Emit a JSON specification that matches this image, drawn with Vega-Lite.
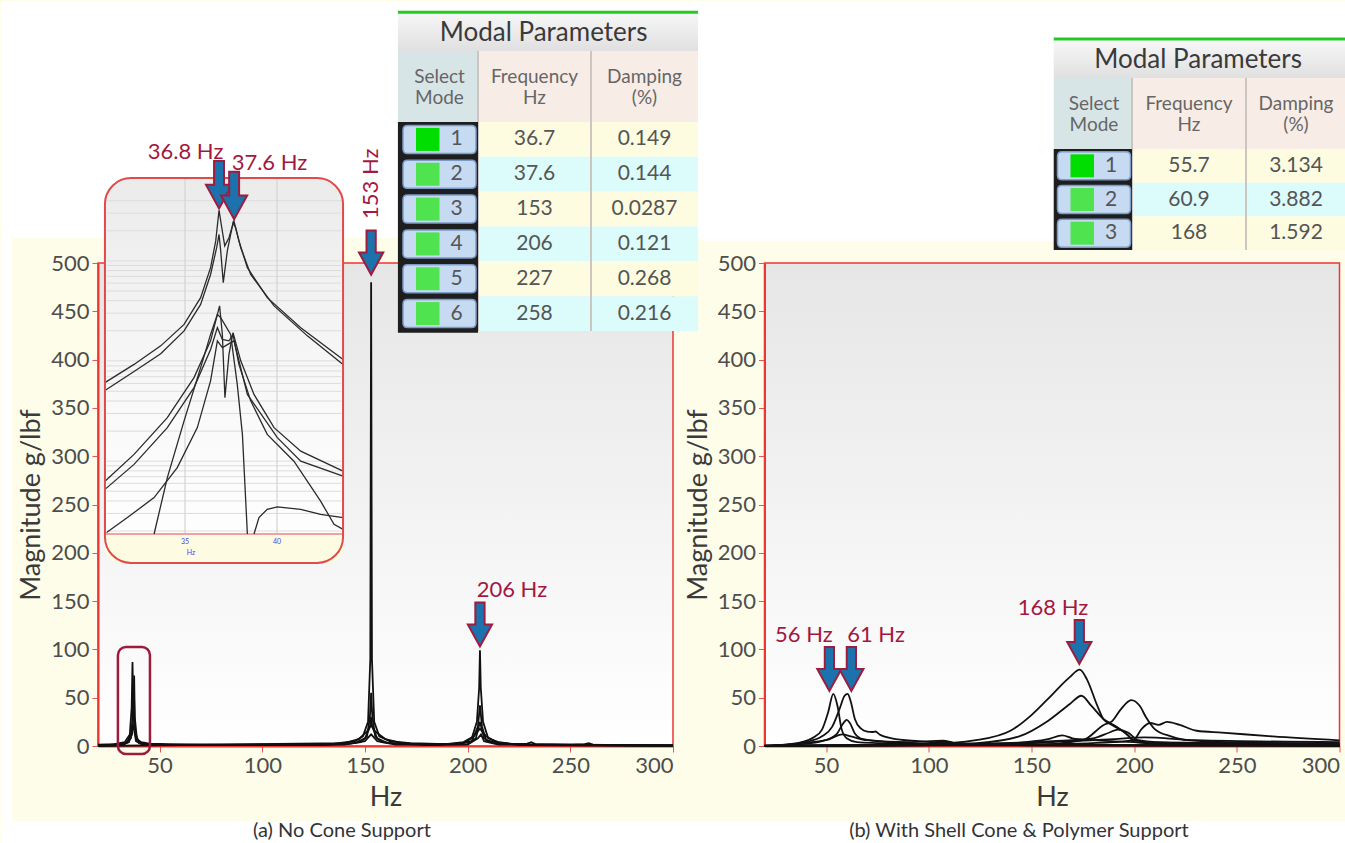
{
"$schema":"https://vega.github.io/schema/vega-lite/v6.json",
"padding":0,
"background":"#fdfde9",
"spacing":91.5,
"bounds":"flush",
"config":{
 "font":"Lato",
 "axis":{"labelFont":"Lato","titleFont":"Lato","labelFontSize":22,"labelColor":"#4d4d4d","titleFontSize":27,"titleFontWeight":"normal","titleColor":"#3a3a3a","gridColor":"#d9d9d9","gridWidth":1.5,"domainColor":"#f03434","domainWidth":2,"tickColor":"#e45555","tickSize":6,"labelPadding":3},
 "axisY":{"labelFlush":false,"titlePadding":5},
 "axisX":{"titlePadding":8}
},
"datasets":{
 "left":[
  {"s":1,"f":20,"m":1.5},{"s":1,"f":28,"m":2},{"s":1,"f":33,"m":4},{"s":1,"f":35.5,"m":12},{"s":1,"f":36.4,"m":40},{"s":1,"f":36.8,"m":87},{"s":1,"f":37.2,"m":40},{"s":1,"f":37.7,"m":20},{"s":1,"f":38.5,"m":8},{"s":1,"f":41,"m":4},{"s":1,"f":45,"m":2.5},{"s":1,"f":55,"m":2},{"s":1,"f":80,"m":1.5},{"s":1,"f":110,"m":1.5},{"s":1,"f":135,"m":2.5},{"s":1,"f":145,"m":5},{"s":1,"f":149,"m":10},{"s":1,"f":151.5,"m":25},{"s":1,"f":152.6,"m":90},{"s":1,"f":153,"m":480},{"s":1,"f":153.4,"m":90},{"s":1,"f":154.5,"m":25},{"s":1,"f":157,"m":10},{"s":1,"f":162,"m":5},{"s":1,"f":172,"m":3},{"s":1,"f":190,"m":2},{"s":1,"f":198,"m":3},{"s":1,"f":202,"m":8},{"s":1,"f":204.5,"m":25},{"s":1,"f":205.6,"m":60},{"s":1,"f":206,"m":99},{"s":1,"f":206.4,"m":60},{"s":1,"f":207.5,"m":25},{"s":1,"f":210,"m":8},{"s":1,"f":215,"m":4},{"s":1,"f":219,"m":3},{"s":1,"f":222,"m":2},{"s":1,"f":229,"m":2.5},{"s":1,"f":231,"m":4},{"s":1,"f":233,"m":2},{"s":1,"f":250,"m":1.5},{"s":1,"f":257,"m":2},{"s":1,"f":259,"m":3},{"s":1,"f":261,"m":1.5},{"s":1,"f":280,"m":1},{"s":1,"f":300,"m":1},
  {"s":2,"f":20,"m":0.5},{"s":2,"f":30,"m":1},{"s":2,"f":35,"m":4},{"s":2,"f":36.6,"m":12},{"s":2,"f":37.3,"m":40},{"s":2,"f":37.6,"m":73},{"s":2,"f":37.9,"m":30},{"s":2,"f":39,"m":6},{"s":2,"f":42,"m":2},{"s":2,"f":50,"m":1},{"s":2,"f":100,"m":1},{"s":2,"f":140,"m":2},{"s":2,"f":148,"m":4},{"s":2,"f":151,"m":10},{"s":2,"f":152.4,"m":30},{"s":2,"f":153,"m":55},{"s":2,"f":153.6,"m":30},{"s":2,"f":155,"m":10},{"s":2,"f":158,"m":4},{"s":2,"f":170,"m":2},{"s":2,"f":195,"m":2},{"s":2,"f":202,"m":5},{"s":2,"f":205,"m":20},{"s":2,"f":206,"m":42},{"s":2,"f":207,"m":20},{"s":2,"f":209,"m":6},{"s":2,"f":215,"m":3},{"s":2,"f":220,"m":2},{"s":2,"f":300,"m":0.5},
  {"s":3,"f":20,"m":0.3},{"s":3,"f":33,"m":2},{"s":3,"f":36,"m":8},{"s":3,"f":36.9,"m":30},{"s":3,"f":37.5,"m":55},{"s":3,"f":38,"m":15},{"s":3,"f":40,"m":3},{"s":3,"f":50,"m":1},{"s":3,"f":130,"m":1},{"s":3,"f":145,"m":3},{"s":3,"f":150,"m":8},{"s":3,"f":152.5,"m":20},{"s":3,"f":153,"m":30},{"s":3,"f":153.5,"m":20},{"s":3,"f":156,"m":8},{"s":3,"f":161,"m":3},{"s":3,"f":180,"m":1},{"s":3,"f":200,"m":2},{"s":3,"f":204,"m":8},{"s":3,"f":206,"m":25},{"s":3,"f":208,"m":8},{"s":3,"f":212,"m":3},{"s":3,"f":230,"m":1.5},{"s":3,"f":300,"m":0.5},
  {"s":4,"f":20,"m":0.2},{"s":4,"f":34,"m":3},{"s":4,"f":36.5,"m":15},{"s":4,"f":37,"m":22},{"s":4,"f":37.5,"m":18},{"s":4,"f":38.5,"m":5},{"s":4,"f":42,"m":1},{"s":4,"f":140,"m":1.5},{"s":4,"f":150,"m":5},{"s":4,"f":153,"m":12},{"s":4,"f":156,"m":5},{"s":4,"f":165,"m":1.5},{"s":4,"f":200,"m":1.5},{"s":4,"f":205,"m":8},{"s":4,"f":206.5,"m":12},{"s":4,"f":208,"m":5},{"s":4,"f":215,"m":1.5},{"s":4,"f":300,"m":0.3},
  {"s":5,"f":20,"m":0},{"s":5,"f":140,"m":3},{"s":5,"f":147,"m":7},{"s":5,"f":151,"m":15},{"s":5,"f":153,"m":22},{"s":5,"f":155,"m":15},{"s":5,"f":160,"m":7},{"s":5,"f":168,"m":3},{"s":5,"f":185,"m":1},{"s":5,"f":198,"m":4},{"s":5,"f":203,"m":10},{"s":5,"f":206,"m":18},{"s":5,"f":209,"m":10},{"s":5,"f":214,"m":4},{"s":5,"f":225,"m":1},{"s":5,"f":300,"m":0}
 ],
 "right":[
  {"s":1,"f":20,"m":0.5},{"s":1,"f":30,"m":1.5},{"s":1,"f":38,"m":4},{"s":1,"f":44,"m":9},{"s":1,"f":48,"m":17},{"s":1,"f":51,"m":35},{"s":1,"f":53.5,"m":54},{"s":1,"f":55.5,"m":42},{"s":1,"f":57.5,"m":18},{"s":1,"f":60,"m":8},{"s":1,"f":65,"m":4},{"s":1,"f":75,"m":3},{"s":1,"f":90,"m":2},{"s":1,"f":110,"m":1},{"s":1,"f":150,"m":0.5},{"s":1,"f":300,"m":0},
  {"s":2,"f":20,"m":0.2},{"s":2,"f":30,"m":1},{"s":2,"f":40,"m":4},{"s":2,"f":48,"m":10},{"s":2,"f":53,"m":20},{"s":2,"f":56.5,"m":38},{"s":2,"f":59,"m":52},{"s":2,"f":60.5,"m":54},{"s":2,"f":62,"m":46},{"s":2,"f":64,"m":28},{"s":2,"f":67,"m":18},{"s":2,"f":70,"m":15},{"s":2,"f":72.5,"m":14.5},{"s":2,"f":74,"m":15},{"s":2,"f":76,"m":12},{"s":2,"f":82,"m":8},{"s":2,"f":95,"m":5},{"s":2,"f":110,"m":3},{"s":2,"f":140,"m":2},{"s":2,"f":170,"m":1},{"s":2,"f":300,"m":0.5},
  {"s":3,"f":20,"m":0},{"s":3,"f":38,"m":2},{"s":3,"f":48,"m":5},{"s":3,"f":55,"m":12},{"s":3,"f":58.5,"m":24},{"s":3,"f":60,"m":27},{"s":3,"f":61.5,"m":24},{"s":3,"f":64,"m":13},{"s":3,"f":68,"m":7},{"s":3,"f":80,"m":4},{"s":3,"f":100,"m":2.5},{"s":3,"f":107,"m":5},{"s":3,"f":110,"m":4.5},{"s":3,"f":115,"m":2},{"s":3,"f":130,"m":1.5},{"s":3,"f":300,"m":0.5},
  {"s":4,"f":20,"m":0.3},{"s":4,"f":60,"m":1},{"s":4,"f":100,"m":2},{"s":4,"f":123,"m":6},{"s":4,"f":140,"m":16},{"s":4,"f":150,"m":32},{"s":4,"f":160,"m":53},{"s":4,"f":168.5,"m":71},{"s":4,"f":173.5,"m":79},{"s":4,"f":177,"m":69},{"s":4,"f":182,"m":42},{"s":4,"f":185,"m":28},{"s":4,"f":189,"m":22},{"s":4,"f":195.5,"m":14},{"s":4,"f":200,"m":6},{"s":4,"f":210,"m":3},{"s":4,"f":240,"m":2},{"s":4,"f":300,"m":1},
  {"s":5,"f":20,"m":0.2},{"s":5,"f":100,"m":1},{"s":5,"f":123.5,"m":3},{"s":5,"f":144,"m":10},{"s":5,"f":158,"m":26},{"s":5,"f":168.7,"m":43.5},{"s":5,"f":174.3,"m":52},{"s":5,"f":179,"m":42},{"s":5,"f":185,"m":28},{"s":5,"f":191.4,"m":20},{"s":5,"f":197.5,"m":10},{"s":5,"f":200,"m":4},{"s":5,"f":215,"m":2},{"s":5,"f":300,"m":0.5},
  {"s":6,"f":20,"m":0},{"s":6,"f":150,"m":1},{"s":6,"f":175,"m":6},{"s":6,"f":185.2,"m":21.8},{"s":6,"f":189.3,"m":25.7},{"s":6,"f":193.4,"m":37.6},{"s":6,"f":198.6,"m":47.5},{"s":6,"f":202.7,"m":41.6},{"s":6,"f":205.8,"m":29.7},{"s":6,"f":209.9,"m":17.8},{"s":6,"f":218,"m":10},{"s":6,"f":226,"m":6},{"s":6,"f":247,"m":4},{"s":6,"f":300,"m":2},
  {"s":7,"f":20,"m":0},{"s":7,"f":150,"m":1.5},{"s":7,"f":190,"m":4},{"s":7,"f":199.6,"m":6},{"s":7,"f":203.7,"m":17.8},{"s":7,"f":207.8,"m":23.8},{"s":7,"f":211.9,"m":21.8},{"s":7,"f":216,"m":25},{"s":7,"f":222.2,"m":21.8},{"s":7,"f":230.5,"m":15.8},{"s":7,"f":242.8,"m":13.9},{"s":7,"f":267.5,"m":9.9},{"s":7,"f":300,"m":5.9},
  {"s":8,"f":20,"m":0},{"s":8,"f":120,"m":2},{"s":8,"f":160,"m":5},{"s":8,"f":180,"m":8},{"s":8,"f":188,"m":14},{"s":8,"f":192,"m":17},{"s":8,"f":197,"m":14},{"s":8,"f":202,"m":6},{"s":8,"f":220,"m":3},{"s":8,"f":300,"m":2},
  {"s":9,"f":20,"m":0},{"s":9,"f":100,"m":1},{"s":9,"f":140,"m":3},{"s":9,"f":158,"m":7},{"s":9,"f":165,"m":11},{"s":9,"f":170,"m":8},{"s":9,"f":180,"m":6},{"s":9,"f":200,"m":4},{"s":9,"f":260,"m":3},{"s":9,"f":300,"m":2},
  {"s":10,"f":20,"m":0},{"s":10,"f":50,"m":6},{"s":10,"f":58,"m":12},{"s":10,"f":62,"m":10},{"s":10,"f":70,"m":6},{"s":10,"f":90,"m":4},{"s":10,"f":107,"m":5.5},{"s":10,"f":112,"m":3},{"s":10,"f":130,"m":2},{"s":10,"f":170,"m":5},{"s":10,"f":190,"m":7},{"s":10,"f":205,"m":9},{"s":10,"f":230,"m":6},{"s":10,"f":300,"m":4}
 ],
 "inset":[
  {"s":1,"f":30.65,"v":42.4},{"s":1,"f":32.23,"v":47.5},{"s":1,"f":33.68,"v":52.7},{"s":1,"f":34.95,"v":58.7},{"s":1,"f":35.85,"v":66.2},{"s":1,"f":36.39,"v":74.6},{"s":1,"f":36.67,"v":82.1},{"s":1,"f":36.85,"v":90.7},{"s":1,"f":36.97,"v":86.7},{"s":1,"f":37.16,"v":80.7},{"s":1,"f":37.39,"v":83.0},{"s":1,"f":37.66,"v":87.7},{"s":1,"f":37.93,"v":82.1},{"s":1,"f":38.39,"v":74.6},{"s":1,"f":39.47,"v":66.2},{"s":1,"f":41.29,"v":57.8},{"s":1,"f":43.59,"v":48.9},
  {"s":2,"f":30.65,"v":40.2},{"s":2,"f":32.23,"v":45.5},{"s":2,"f":33.68,"v":50.5},{"s":2,"f":34.95,"v":56.9},{"s":2,"f":35.85,"v":64.3},{"s":2,"f":36.39,"v":72.7},{"s":2,"f":36.72,"v":80.2},{"s":2,"f":36.85,"v":83.9},{"s":2,"f":36.94,"v":79.3},{"s":2,"f":37.08,"v":70.4},{"s":2,"f":37.30,"v":79.3},{"s":2,"f":37.61,"v":87.2},{"s":2,"f":37.75,"v":85.8},{"s":2,"f":38.03,"v":80.2},{"s":2,"f":38.57,"v":72.7},{"s":2,"f":39.84,"v":63.9},{"s":2,"f":41.65,"v":55.5},{"s":2,"f":43.59,"v":47.5},
  {"s":3,"f":30.65,"v":14.8},{"s":3,"f":32.23,"v":22.3},{"s":3,"f":34.04,"v":32.6},{"s":3,"f":35.49,"v":43.8},{"s":3,"f":36.39,"v":54.1},{"s":3,"f":36.88,"v":63.9},{"s":3,"f":37.03,"v":55.9},{"s":3,"f":37.17,"v":38.2},{"s":3,"f":37.39,"v":50.3},{"s":3,"f":37.61,"v":56.4},{"s":3,"f":38.03,"v":48.5},{"s":3,"f":38.75,"v":39.1},{"s":3,"f":39.84,"v":29.8},{"s":3,"f":41.29,"v":23.2},{"s":3,"f":43.59,"v":17.6},
  {"s":4,"f":30.65,"v":12.5},{"s":4,"f":32.23,"v":19.5},{"s":4,"f":34.04,"v":29.8},{"s":4,"f":35.49,"v":41.0},{"s":4,"f":36.39,"v":51.7},{"s":4,"f":36.76,"v":57.8},{"s":4,"f":37.03,"v":54.5},{"s":4,"f":37.39,"v":54.1},{"s":4,"f":37.61,"v":55.9},{"s":4,"f":37.93,"v":47.5},{"s":4,"f":38.57,"v":37.3},{"s":4,"f":39.47,"v":27.9},{"s":4,"f":40.92,"v":20.4},{"s":4,"f":42.37,"v":9.2},{"s":4,"f":43.10,"v":2.7},{"s":4,"f":43.59,"v":1.3},
  {"s":5,"f":30.74,"v":0.4},{"s":5,"f":31.87,"v":4.6},{"s":5,"f":33.32,"v":10.2},{"s":5,"f":34.58,"v":18.6},{"s":5,"f":35.67,"v":29.8},{"s":5,"f":36.39,"v":42.9},{"s":5,"f":36.76,"v":54.1},{"s":5,"f":37.03,"v":52.2},{"s":5,"f":37.66,"v":54.1},{"s":5,"f":38.39,"v":39.1},{"s":5,"f":40.02,"v":27.0},{"s":5,"f":41.29,"v":20.4},{"s":5,"f":43.59,"v":16.2},
  {"s":6,"f":33.32,"v":0},{"s":6,"f":34.04,"v":15.8},{"s":6,"f":34.95,"v":31.7},{"s":6,"f":35.85,"v":46.6},{"s":6,"f":36.39,"v":55.9},{"s":6,"f":36.76,"v":61.5},{"s":6,"f":36.94,"v":60.6},{"s":6,"f":37.48,"v":55.9},{"s":6,"f":37.84,"v":41.9},{"s":6,"f":38.12,"v":27.9},{"s":6,"f":38.39,"v":0},
  {"s":7,"f":38.75,"v":0},{"s":7,"f":39.02,"v":4.6},{"s":7,"f":39.47,"v":6.9},{"s":7,"f":40.02,"v":7.6},{"s":7,"f":41.29,"v":6.9},{"s":7,"f":42.37,"v":5.5},{"s":7,"f":43.59,"v":4.6}
 ],
 "igrid":[{"v":0.83},{"v":5.76},{"v":9.26},{"v":11.97},{"v":14.18},{"v":16.06},{"v":17.68},{"v":19.11},{"v":20.4},{"v":28.83},{"v":33.76},{"v":37.26},{"v":39.97},{"v":42.18},{"v":44.06},{"v":45.68},{"v":47.11},{"v":48.5},{"v":56.93},{"v":61.86},{"v":65.36},{"v":68.07},{"v":70.28},{"v":72.16},{"v":73.78},{"v":75.21},{"v":76.5},{"v":84.93},{"v":89.86},{"v":93.36}],
 "tabL":[{"row":1,"freq":"36.7","damp":"0.149"},{"row":2,"freq":"37.6","damp":"0.144"},{"row":3,"freq":"153","damp":"0.0287"},{"row":4,"freq":"206","damp":"0.121"},{"row":5,"freq":"227","damp":"0.268"},{"row":6,"freq":"258","damp":"0.216"}],
 "tabR":[{"row":1,"freq":"55.7","damp":"3.134"},{"row":2,"freq":"60.9","damp":"3.882"},{"row":3,"freq":"168","damp":"1.592"}],
 "heads":[{"c":0,"t1":"Select","t2":"Mode"},{"c":1,"t1":"Frequency","t2":"Hz"},{"c":2,"t1":"Damping","t2":"(%)"}],
 "one":[{}]
},
"hconcat":[
{
 "width":575,"height":483,
 "view":{"fill":{"gradient":"linear","x1":0,"y1":0,"x2":0,"y2":1,"stops":[{"offset":0,"color":"#e6e6e6"},{"offset":1,"color":"#ffffff"}]},"stroke":"#f03434","strokeWidth":1.5},
 "resolve":{"scale":{"x":"independent","y":"independent"}},
 "layer":[
  {"layer":[
   {"data":{"name":"one"},"mark":{"type":"rect","fill":"#ffffff"},"encoding":{"x":{"datum":-27.2,"type":"quantitative","scale":{"domain":[20,300],"nice":false,"zero":false}},"x2":{"datum":313.6},"y":{"datum":771.2,"type":"quantitative","scale":{"domain":[0,500],"nice":false,"zero":false}},"y2":{"datum":525.9}}},
   {"data":{"name":"one"},"mark":{"type":"rect","fill":"#ffffff"},"encoding":{"x":{"datum":-27.2,"type":"quantitative","scale":{"domain":[20,300],"nice":false,"zero":false}},"x2":{"datum":-21.9},"y":{"datum":525.9,"type":"quantitative","scale":{"domain":[0,500],"nice":false,"zero":false}},"y2":{"datum":-101.4}}},
   {"data":{"name":"one"},"mark":{"type":"rect","fill":"#ffffff"},"encoding":{"x":{"datum":-27.2,"type":"quantitative","scale":{"domain":[20,300],"nice":false,"zero":false}},"x2":{"datum":313.6},"y":{"datum":-77.6,"type":"quantitative","scale":{"domain":[0,500],"nice":false,"zero":false}},"y2":{"datum":-101.4}}},
   {"data":{"name":"left"},"mark":{"type":"line","color":"#111111","strokeWidth":1.8},"encoding":{"x":{"field":"f","type":"quantitative","scale":{"domain":[20,300],"nice":false,"zero":false},"axis":{"title":"Hz","values":[50,100,150,200,250,300]}},"y":{"field":"m","type":"quantitative","scale":{"domain":[0,500],"nice":false,"zero":false},"axis":{"title":"Magnitude g/lbf","values":[0,50,100,150,200,250,300,350,400,450,500]}},"detail":{"field":"s"}}},
   {"data":{"name":"one"},"mark":{"type":"rect","fillOpacity":0,"stroke":"#9b1c3c","strokeWidth":2.5,"cornerRadius":8},"encoding":{"x":{"datum":29.7,"type":"quantitative","scale":{"domain":[20,300],"nice":false,"zero":false}},"x2":{"datum":45.3},"y":{"datum":-8.3,"type":"quantitative","scale":{"domain":[0,500],"nice":false,"zero":false}},"y2":{"datum":102.5}}},
   {"data":{"values":[{"f":153,"m":488},{"f":206,"m":103}]},"mark":{"type":"point","shape":"M-0.42,-4 L0.42,-4 L0.42,-2 L1.1,-2 L0,0 L-1.1,-2 L-0.42,-2 Z","size":484,"filled":true,"fill":"#1b72ad","stroke":"#9c1d3d","strokeWidth":2,"opacity":1},"encoding":{"x":{"field":"f","type":"quantitative","scale":{"domain":[20,300],"nice":false,"zero":false}},"y":{"field":"m","type":"quantitative","scale":{"domain":[0,500],"nice":false,"zero":false}}}},
   {"data":{"values":[{"f":153,"m":582,"t":"153 Hz"}]},"mark":{"type":"text","angle":270,"fontSize":22,"color":"#a3183f","align":"center","baseline":"middle"},"encoding":{"x":{"field":"f","type":"quantitative","scale":{"domain":[20,300],"nice":false,"zero":false}},"y":{"field":"m","type":"quantitative","scale":{"domain":[0,500],"nice":false,"zero":false}},"text":{"field":"t"}}},
   {"data":{"values":[{"f":204.4,"m":162,"t":"206 Hz"}]},"mark":{"type":"text","fontSize":22,"color":"#a3183f","align":"left","baseline":"middle"},"encoding":{"x":{"field":"f","type":"quantitative","scale":{"domain":[20,300],"nice":false,"zero":false}},"y":{"field":"m","type":"quantitative","scale":{"domain":[0,500],"nice":false,"zero":false}},"text":{"field":"t"}}},
   {"data":{"name":"one"},"mark":{"type":"text","fontSize":20,"color":"#333333","align":"center","baseline":"middle"},"encoding":{"x":{"datum":138.8,"type":"quantitative","scale":{"domain":[20,300],"nice":false,"zero":false}},"y":{"datum":-88,"type":"quantitative","scale":{"domain":[0,500],"nice":false,"zero":false}},"text":{"value":"(a) No Cone Support"}}}
  ]},
  {"layer":[
   {"data":{"name":"one"},"mark":{"type":"rect","cornerRadius":26,"fill":{"gradient":"linear","x1":0,"y1":0,"x2":0,"y2":1,"stops":[{"offset":0,"color":"#ebebeb"},{"offset":0.6,"color":"#f9f9f9"},{"offset":1,"color":"#ffffff"}]}},"encoding":{"x":{"datum":30.65,"type":"quantitative","scale":{"domain":[35,40],"range":[87,179],"nice":false,"zero":false},"axis":null},"x2":{"datum":43.59},"y":{"datum":-8.1,"type":"quantitative","scale":{"domain":[0,100],"range":[271,-86],"nice":false,"zero":false},"axis":null},"y2":{"datum":99.7}}},
   {"data":{"name":"one"},"mark":{"type":"rect","cornerRadiusBottomLeft":26,"cornerRadiusBottomRight":26,"fill":"#fdfbe1"},"encoding":{"x":{"datum":30.65,"type":"quantitative","scale":{"domain":[35,40],"range":[87,179],"nice":false,"zero":false},"axis":null},"x2":{"datum":43.59},"y":{"datum":-8.1,"type":"quantitative","scale":{"domain":[0,100],"range":[271,-86],"nice":false,"zero":false},"axis":null},"y2":{"datum":0}}},
   {"data":{"name":"igrid"},"mark":{"type":"rule","color":"#dcdcdc","strokeWidth":1},"encoding":{"x":{"datum":30.75,"type":"quantitative","scale":{"domain":[35,40],"range":[87,179],"nice":false,"zero":false},"axis":null},"x2":{"datum":43.5},"y":{"field":"v","type":"quantitative","scale":{"domain":[0,100],"range":[271,-86],"nice":false,"zero":false},"axis":null}}},
   {"data":{"values":[{"f":35},{"f":40}]},"mark":{"type":"rule","color":"#d4d4d4","strokeWidth":1.2},"encoding":{"x":{"field":"f","type":"quantitative","scale":{"domain":[35,40],"range":[87,179],"nice":false,"zero":false},"axis":null},"y":{"datum":0,"type":"quantitative","scale":{"domain":[0,100],"range":[271,-86],"nice":false,"zero":false},"axis":null},"y2":{"datum":99.7}}},
   {"data":{"name":"one"},"mark":{"type":"rule","color":"#f5a0a0","strokeWidth":2},"encoding":{"x":{"datum":30.65,"type":"quantitative","scale":{"domain":[35,40],"range":[87,179],"nice":false,"zero":false},"axis":null},"x2":{"datum":43.59},"y":{"datum":0,"type":"quantitative","scale":{"domain":[0,100],"range":[271,-86],"nice":false,"zero":false},"axis":null}}},
   {"data":{"name":"inset"},"mark":{"type":"line","color":"#2a2a2a","strokeWidth":1.3},"encoding":{"x":{"field":"f","type":"quantitative","scale":{"domain":[35,40],"range":[87,179],"nice":false,"zero":false},"axis":null},"y":{"field":"v","type":"quantitative","scale":{"domain":[0,100],"range":[271,-86],"nice":false,"zero":false},"axis":null},"detail":{"field":"s"}}},
   {"data":{"name":"one"},"mark":{"type":"rect","fillOpacity":0,"stroke":"#e04a4a","strokeWidth":2,"cornerRadius":26},"encoding":{"x":{"datum":30.65,"type":"quantitative","scale":{"domain":[35,40],"range":[87,179],"nice":false,"zero":false},"axis":null},"x2":{"datum":43.59},"y":{"datum":-8.1,"type":"quantitative","scale":{"domain":[0,100],"range":[271,-86],"nice":false,"zero":false},"axis":null},"y2":{"datum":99.7}}},
   {"data":{"values":[{"f":35,"t":"35"},{"f":40,"t":"40"}]},"mark":{"type":"text","fontSize":7,"color":"#4646ee","baseline":"middle"},"encoding":{"x":{"field":"f","type":"quantitative","scale":{"domain":[35,40],"range":[87,179],"nice":false,"zero":false},"axis":null},"y":{"datum":-2.2,"type":"quantitative","scale":{"domain":[0,100],"range":[271,-86],"nice":false,"zero":false},"axis":null},"text":{"field":"t"}}},
   {"data":{"name":"one"},"mark":{"type":"text","fontSize":7,"color":"#4646ee","baseline":"middle"},"encoding":{"x":{"datum":35.33,"type":"quantitative","scale":{"domain":[35,40],"range":[87,179],"nice":false,"zero":false},"axis":null},"y":{"datum":-5.3,"type":"quantitative","scale":{"domain":[0,100],"range":[271,-86],"nice":false,"zero":false},"axis":null},"text":{"value":"Hz"}}},
   {"data":{"values":[{"f":36.85,"v":91.2},{"f":37.67,"v":88.2}]},"mark":{"type":"point","shape":"M-0.42,-4 L0.42,-4 L0.42,-2 L1.1,-2 L0,0 L-1.1,-2 L-0.42,-2 Z","size":560,"filled":true,"fill":"#1b72ad","stroke":"#9c1d3d","strokeWidth":2,"opacity":1},"encoding":{"x":{"field":"f","type":"quantitative","scale":{"domain":[35,40],"range":[87,179],"nice":false,"zero":false},"axis":null},"y":{"field":"v","type":"quantitative","scale":{"domain":[0,100],"range":[271,-86],"nice":false,"zero":false},"axis":null}}},
   {"data":{"values":[{"f":35.03,"v":107,"t":"36.8 Hz"},{"f":39.59,"v":103.9,"t":"37.6 Hz"}]},"mark":{"type":"text","fontSize":22,"color":"#a3183f","align":"center","baseline":"middle"},"encoding":{"x":{"field":"f","type":"quantitative","scale":{"domain":[35,40],"range":[87,179],"nice":false,"zero":false},"axis":null},"y":{"field":"v","type":"quantitative","scale":{"domain":[0,100],"range":[271,-86],"nice":false,"zero":false},"axis":null},"text":{"field":"t"}}}
  ]},
  {"layer":[
   {"data":{"name":"one"},"mark":{"type":"rule","color":"#1fcc1f","strokeWidth":3},"encoding":{"x":{"datum":-0.54,"type":"quantitative","scale":{"domain":[-0.5,0.5,1.5,2.5],"range":[303,380,493,600],"nice":false,"zero":false},"axis":null},"x2":{"datum":2.5},"y":{"datum":-1.55,"type":"quantitative","scale":{"domain":[-1.5,-0.5,0.5,6.5],"range":[-249,-212,-141,68],"nice":false,"zero":false},"axis":null}}},
   {"data":{"name":"one"},"mark":{"type":"rect","fill":{"gradient":"linear","x1":0,"y1":0,"x2":0,"y2":1,"stops":[{"offset":0,"color":"#f6f6f6"},{"offset":1,"color":"#e0e0e0"}]}},"encoding":{"x":{"datum":-0.54,"type":"quantitative","scale":{"domain":[-0.5,0.5,1.5,2.5],"range":[303,380,493,600],"nice":false,"zero":false},"axis":null},"x2":{"datum":2.5},"y":{"datum":-1.5,"type":"quantitative","scale":{"domain":[-1.5,-0.5,0.5,6.5],"range":[-249,-212,-141,68],"nice":false,"zero":false},"axis":null},"y2":{"datum":-0.5}}},
   {"data":{"name":"one"},"mark":{"type":"rect","fill":"#d8e5e7"},"encoding":{"x":{"datum":-0.54,"type":"quantitative","scale":{"domain":[-0.5,0.5,1.5,2.5],"range":[303,380,493,600],"nice":false,"zero":false},"axis":null},"x2":{"datum":0.5},"y":{"datum":-0.5,"type":"quantitative","scale":{"domain":[-1.5,-0.5,0.5,6.5],"range":[-249,-212,-141,68],"nice":false,"zero":false},"axis":null},"y2":{"datum":0.5}}},
   {"data":{"name":"one"},"mark":{"type":"rect","fill":"#f7ede6"},"encoding":{"x":{"datum":0.5,"type":"quantitative","scale":{"domain":[-0.5,0.5,1.5,2.5],"range":[303,380,493,600],"nice":false,"zero":false},"axis":null},"x2":{"datum":2.5},"y":{"datum":-0.5,"type":"quantitative","scale":{"domain":[-1.5,-0.5,0.5,6.5],"range":[-249,-212,-141,68],"nice":false,"zero":false},"axis":null},"y2":{"datum":0.5}}},
   {"data":{"name":"tabL"},"mark":{"type":"rule","strokeWidth":34.8,"strokeCap":"butt"},"encoding":{"x":{"datum":0.5,"type":"quantitative","scale":{"domain":[-0.5,0.5,1.5,2.5],"range":[303,380,493,600],"nice":false,"zero":false},"axis":null},"x2":{"datum":2.5},"y":{"field":"row","type":"quantitative","scale":{"domain":[-1.5,-0.5,0.5,6.5],"range":[-249,-212,-141,68],"nice":false,"zero":false},"axis":null},"color":{"field":"row","type":"ordinal","scale":{"domain":[1,2,3,4,5,6],"range":["#fdfce1","#dcfbfb","#fdfce1","#dcfbfb","#fdfce1","#dcfbfb"]},"legend":null}}},
   {"data":{"values":[{"c":0.5},{"c":1.5}]},"mark":{"type":"rule","color":"#cdc6c0","strokeWidth":2},"encoding":{"x":{"field":"c","type":"quantitative","scale":{"domain":[-0.5,0.5,1.5,2.5],"range":[303,380,493,600],"nice":false,"zero":false},"axis":null},"y":{"datum":-0.5,"type":"quantitative","scale":{"domain":[-1.5,-0.5,0.5,6.5],"range":[-249,-212,-141,68],"nice":false,"zero":false},"axis":null},"y2":{"datum":6.5}}},
   {"data":{"name":"one"},"mark":{"type":"rect","fill":"#1e1e1e"},"encoding":{"x":{"datum":-0.54,"type":"quantitative","scale":{"domain":[-0.5,0.5,1.5,2.5],"range":[303,380,493,600],"nice":false,"zero":false},"axis":null},"x2":{"datum":0.5},"y":{"datum":0.5,"type":"quantitative","scale":{"domain":[-1.5,-0.5,0.5,6.5],"range":[-249,-212,-141,68],"nice":false,"zero":false},"axis":null},"y2":{"datum":6.55}}},
   {"data":{"name":"tabL"},"mark":{"type":"point","shape":"M-3.2,-1.4 L3.2,-1.4 Q3.65,-1.4 3.65,-0.95 L3.65,0.95 Q3.65,1.4 3.2,1.4 L-3.2,1.4 Q-3.65,1.4 -3.65,0.95 L-3.65,-0.95 Q-3.65,-1.4 -3.2,-1.4 Z","size":400,"filled":true,"fill":"#c6daf2","stroke":"#7c9cc8","strokeWidth":1.5,"opacity":1},"encoding":{"x":{"datum":0,"type":"quantitative","scale":{"domain":[-0.5,0.5,1.5,2.5],"range":[303,380,493,600],"nice":false,"zero":false},"axis":null},"y":{"field":"row","type":"quantitative","scale":{"domain":[-1.5,-0.5,0.5,6.5],"range":[-249,-212,-141,68],"nice":false,"zero":false},"axis":null}}},
   {"data":{"name":"tabL"},"mark":{"type":"point","shape":"M-2.35,-1.15 L0,-1.15 L0,1.15 L-2.35,1.15 Z","size":400,"filled":true,"strokeWidth":0,"opacity":1},"encoding":{"x":{"datum":0,"type":"quantitative","scale":{"domain":[-0.5,0.5,1.5,2.5],"range":[303,380,493,600],"nice":false,"zero":false},"axis":null},"y":{"field":"row","type":"quantitative","scale":{"domain":[-1.5,-0.5,0.5,6.5],"range":[-249,-212,-141,68],"nice":false,"zero":false},"axis":null},"fill":{"condition":{"test":"datum.row == 1","value":"#00dd00"},"value":"#4fe34f"}}},
   {"data":{"name":"tabL"},"mark":{"type":"text","fontSize":21,"color":"#555555","dx":17,"baseline":"middle"},"encoding":{"x":{"datum":0,"type":"quantitative","scale":{"domain":[-0.5,0.5,1.5,2.5],"range":[303,380,493,600],"nice":false,"zero":false},"axis":null},"y":{"field":"row","type":"quantitative","scale":{"domain":[-1.5,-0.5,0.5,6.5],"range":[-249,-212,-141,68],"nice":false,"zero":false},"axis":null},"text":{"field":"row","type":"nominal"}}},
   {"data":{"name":"tabL"},"mark":{"type":"text","fontSize":21,"color":"#555555","baseline":"middle"},"encoding":{"x":{"datum":1,"type":"quantitative","scale":{"domain":[-0.5,0.5,1.5,2.5],"range":[303,380,493,600],"nice":false,"zero":false},"axis":null},"y":{"field":"row","type":"quantitative","scale":{"domain":[-1.5,-0.5,0.5,6.5],"range":[-249,-212,-141,68],"nice":false,"zero":false},"axis":null},"text":{"field":"freq"}}},
   {"data":{"name":"tabL"},"mark":{"type":"text","fontSize":21,"color":"#555555","baseline":"middle"},"encoding":{"x":{"datum":2,"type":"quantitative","scale":{"domain":[-0.5,0.5,1.5,2.5],"range":[303,380,493,600],"nice":false,"zero":false},"axis":null},"y":{"field":"row","type":"quantitative","scale":{"domain":[-1.5,-0.5,0.5,6.5],"range":[-249,-212,-141,68],"nice":false,"zero":false},"axis":null},"text":{"field":"damp"}}},
   {"data":{"name":"heads"},"mark":{"type":"text","fontSize":19,"color":"#666666","baseline":"middle"},"encoding":{"x":{"field":"c","type":"quantitative","scale":{"domain":[-0.5,0.5,1.5,2.5],"range":[303,380,493,600],"nice":false,"zero":false},"axis":null},"y":{"datum":-0.14,"type":"quantitative","scale":{"domain":[-1.5,-0.5,0.5,6.5],"range":[-249,-212,-141,68],"nice":false,"zero":false},"axis":null},"text":{"field":"t1"}}},
   {"data":{"name":"heads"},"mark":{"type":"text","fontSize":19,"color":"#666666","baseline":"middle"},"encoding":{"x":{"field":"c","type":"quantitative","scale":{"domain":[-0.5,0.5,1.5,2.5],"range":[303,380,493,600],"nice":false,"zero":false},"axis":null},"y":{"datum":0.16,"type":"quantitative","scale":{"domain":[-1.5,-0.5,0.5,6.5],"range":[-249,-212,-141,68],"nice":false,"zero":false},"axis":null},"text":{"field":"t2"}}},
   {"data":{"name":"one"},"mark":{"type":"text","fontSize":26,"color":"#3a3a3a","baseline":"middle"},"encoding":{"x":{"datum":1.08,"type":"quantitative","scale":{"domain":[-0.5,0.5,1.5,2.5],"range":[303,380,493,600],"nice":false,"zero":false},"axis":null},"y":{"datum":-1,"type":"quantitative","scale":{"domain":[-1.5,-0.5,0.5,6.5],"range":[-249,-212,-141,68],"nice":false,"zero":false},"axis":null},"text":{"value":"Modal Parameters"}}}
  ]}
 ]
},
{
 "width":575,"height":483,
 "view":{"fill":{"gradient":"linear","x1":0,"y1":0,"x2":0,"y2":1,"stops":[{"offset":0,"color":"#e6e6e6"},{"offset":1,"color":"#ffffff"}]},"stroke":"#f03434","strokeWidth":1.5},
 "resolve":{"scale":{"x":"independent","y":"independent"}},
 "layer":[
  {"layer":[
   {"data":{"name":"one"},"mark":{"type":"rect","fill":"#ffffff"},"encoding":{"x":{"datum":-10.9,"type":"quantitative","scale":{"domain":[20,300],"nice":false,"zero":false}},"x2":{"datum":303.2},"y":{"datum":771.2,"type":"quantitative","scale":{"domain":[0,500],"nice":false,"zero":false}},"y2":{"datum":522.8}}},
   {"data":{"name":"one"},"mark":{"type":"rect","fill":"#ffffff"},"encoding":{"x":{"datum":-10.9,"type":"quantitative","scale":{"domain":[20,300],"nice":false,"zero":false}},"x2":{"datum":303.2},"y":{"datum":-77.6,"type":"quantitative","scale":{"domain":[0,500],"nice":false,"zero":false}},"y2":{"datum":-101.4}}},
   {"data":{"name":"right"},"mark":{"type":"line","color":"#111111","strokeWidth":1.8,"interpolate":"monotone"},"encoding":{"x":{"field":"f","type":"quantitative","scale":{"domain":[20,300],"nice":false,"zero":false},"axis":{"title":"Hz","values":[50,100,150,200,250,300]}},"y":{"field":"m","type":"quantitative","scale":{"domain":[0,500],"nice":false,"zero":false},"axis":{"title":"Magnitude g/lbf","values":[0,50,100,150,200,250,300,350,400,450,500]}},"detail":{"field":"s"}}},
   {"data":{"values":[{"f":51.6,"m":57},{"f":62.3,"m":57},{"f":173.3,"m":85}]},"mark":{"type":"point","shape":"M-0.42,-4 L0.42,-4 L0.42,-2 L1.1,-2 L0,0 L-1.1,-2 L-0.42,-2 Z","size":484,"filled":true,"fill":"#1b72ad","stroke":"#9c1d3d","strokeWidth":2,"opacity":1},"encoding":{"x":{"field":"f","type":"quantitative","scale":{"domain":[20,300],"nice":false,"zero":false}},"y":{"field":"m","type":"quantitative","scale":{"domain":[0,500],"nice":false,"zero":false}}}},
   {"data":{"values":[{"f":39.2,"m":115,"t":"56 Hz"},{"f":74.3,"m":115,"t":"61 Hz"},{"f":160.5,"m":142.4,"t":"168 Hz"}]},"mark":{"type":"text","fontSize":22,"color":"#a3183f","align":"center","baseline":"middle"},"encoding":{"x":{"field":"f","type":"quantitative","scale":{"domain":[20,300],"nice":false,"zero":false}},"y":{"field":"m","type":"quantitative","scale":{"domain":[0,500],"nice":false,"zero":false}},"text":{"field":"t"}}},
   {"data":{"name":"one"},"mark":{"type":"text","fontSize":20,"color":"#333333","align":"center","baseline":"middle"},"encoding":{"x":{"datum":143.9,"type":"quantitative","scale":{"domain":[20,300],"nice":false,"zero":false}},"y":{"datum":-88,"type":"quantitative","scale":{"domain":[0,500],"nice":false,"zero":false}},"text":{"value":"(b) With Shell Cone & Polymer Support"}}}
  ]},
  {"layer":[
   {"data":{"name":"one"},"mark":{"type":"rule","color":"#1fcc1f","strokeWidth":3},"encoding":{"x":{"datum":-0.53,"type":"quantitative","scale":{"domain":[-0.5,0.5,1.5,2.5],"range":[291.5,367.5,481.5,581.5],"nice":false,"zero":false},"axis":null},"x2":{"datum":2.5},"y":{"datum":-1.58,"type":"quantitative","scale":{"domain":[-1.5,-0.5,0.5,3.5],"range":[-221,-185,-114,-13],"nice":false,"zero":false},"axis":null}}},
   {"data":{"name":"one"},"mark":{"type":"rect","fill":{"gradient":"linear","x1":0,"y1":0,"x2":0,"y2":1,"stops":[{"offset":0,"color":"#f6f6f6"},{"offset":1,"color":"#e0e0e0"}]}},"encoding":{"x":{"datum":-0.53,"type":"quantitative","scale":{"domain":[-0.5,0.5,1.5,2.5],"range":[291.5,367.5,481.5,581.5],"nice":false,"zero":false},"axis":null},"x2":{"datum":2.5},"y":{"datum":-1.5,"type":"quantitative","scale":{"domain":[-1.5,-0.5,0.5,3.5],"range":[-221,-185,-114,-13],"nice":false,"zero":false},"axis":null},"y2":{"datum":-0.5}}},
   {"data":{"name":"one"},"mark":{"type":"rect","fill":"#d8e5e7"},"encoding":{"x":{"datum":-0.53,"type":"quantitative","scale":{"domain":[-0.5,0.5,1.5,2.5],"range":[291.5,367.5,481.5,581.5],"nice":false,"zero":false},"axis":null},"x2":{"datum":0.5},"y":{"datum":-0.5,"type":"quantitative","scale":{"domain":[-1.5,-0.5,0.5,3.5],"range":[-221,-185,-114,-13],"nice":false,"zero":false},"axis":null},"y2":{"datum":0.5}}},
   {"data":{"name":"one"},"mark":{"type":"rect","fill":"#f7ede6"},"encoding":{"x":{"datum":0.5,"type":"quantitative","scale":{"domain":[-0.5,0.5,1.5,2.5],"range":[291.5,367.5,481.5,581.5],"nice":false,"zero":false},"axis":null},"x2":{"datum":2.5},"y":{"datum":-0.5,"type":"quantitative","scale":{"domain":[-1.5,-0.5,0.5,3.5],"range":[-221,-185,-114,-13],"nice":false,"zero":false},"axis":null},"y2":{"datum":0.5}}},
   {"data":{"name":"tabR"},"mark":{"type":"rule","strokeWidth":33.7,"strokeCap":"butt"},"encoding":{"x":{"datum":0.5,"type":"quantitative","scale":{"domain":[-0.5,0.5,1.5,2.5],"range":[291.5,367.5,481.5,581.5],"nice":false,"zero":false},"axis":null},"x2":{"datum":2.5},"y":{"field":"row","type":"quantitative","scale":{"domain":[-1.5,-0.5,0.5,3.5],"range":[-221,-185,-114,-13],"nice":false,"zero":false},"axis":null},"color":{"field":"row","type":"ordinal","scale":{"domain":[1,2,3,4,5,6],"range":["#fdfce1","#dcfbfb","#fdfce1","#dcfbfb","#fdfce1","#dcfbfb"]},"legend":null}}},
   {"data":{"values":[{"c":0.5},{"c":1.5}]},"mark":{"type":"rule","color":"#cdc6c0","strokeWidth":2},"encoding":{"x":{"field":"c","type":"quantitative","scale":{"domain":[-0.5,0.5,1.5,2.5],"range":[291.5,367.5,481.5,581.5],"nice":false,"zero":false},"axis":null},"y":{"datum":-0.5,"type":"quantitative","scale":{"domain":[-1.5,-0.5,0.5,3.5],"range":[-221,-185,-114,-13],"nice":false,"zero":false},"axis":null},"y2":{"datum":3.5}}},
   {"data":{"name":"one"},"mark":{"type":"rect","fill":"#1e1e1e"},"encoding":{"x":{"datum":-0.53,"type":"quantitative","scale":{"domain":[-0.5,0.5,1.5,2.5],"range":[291.5,367.5,481.5,581.5],"nice":false,"zero":false},"axis":null},"x2":{"datum":0.5},"y":{"datum":0.5,"type":"quantitative","scale":{"domain":[-1.5,-0.5,0.5,3.5],"range":[-221,-185,-114,-13],"nice":false,"zero":false},"axis":null},"y2":{"datum":3.5}}},
   {"data":{"name":"tabR"},"mark":{"type":"point","shape":"M-3.2,-1.4 L3.2,-1.4 Q3.65,-1.4 3.65,-0.95 L3.65,0.95 Q3.65,1.4 3.2,1.4 L-3.2,1.4 Q-3.65,1.4 -3.65,0.95 L-3.65,-0.95 Q-3.65,-1.4 -3.2,-1.4 Z","size":400,"filled":true,"fill":"#c6daf2","stroke":"#7c9cc8","strokeWidth":1.5,"opacity":1},"encoding":{"x":{"datum":0,"type":"quantitative","scale":{"domain":[-0.5,0.5,1.5,2.5],"range":[291.5,367.5,481.5,581.5],"nice":false,"zero":false},"axis":null},"y":{"field":"row","type":"quantitative","scale":{"domain":[-1.5,-0.5,0.5,3.5],"range":[-221,-185,-114,-13],"nice":false,"zero":false},"axis":null}}},
   {"data":{"name":"tabR"},"mark":{"type":"point","shape":"M-2.35,-1.15 L0,-1.15 L0,1.15 L-2.35,1.15 Z","size":400,"filled":true,"strokeWidth":0,"opacity":1},"encoding":{"x":{"datum":0,"type":"quantitative","scale":{"domain":[-0.5,0.5,1.5,2.5],"range":[291.5,367.5,481.5,581.5],"nice":false,"zero":false},"axis":null},"y":{"field":"row","type":"quantitative","scale":{"domain":[-1.5,-0.5,0.5,3.5],"range":[-221,-185,-114,-13],"nice":false,"zero":false},"axis":null},"fill":{"condition":{"test":"datum.row == 1","value":"#00dd00"},"value":"#4fe34f"}}},
   {"data":{"name":"tabR"},"mark":{"type":"text","fontSize":21,"color":"#555555","dx":17,"baseline":"middle"},"encoding":{"x":{"datum":0,"type":"quantitative","scale":{"domain":[-0.5,0.5,1.5,2.5],"range":[291.5,367.5,481.5,581.5],"nice":false,"zero":false},"axis":null},"y":{"field":"row","type":"quantitative","scale":{"domain":[-1.5,-0.5,0.5,3.5],"range":[-221,-185,-114,-13],"nice":false,"zero":false},"axis":null},"text":{"field":"row","type":"nominal"}}},
   {"data":{"name":"tabR"},"mark":{"type":"text","fontSize":21,"color":"#555555","baseline":"middle"},"encoding":{"x":{"datum":1,"type":"quantitative","scale":{"domain":[-0.5,0.5,1.5,2.5],"range":[291.5,367.5,481.5,581.5],"nice":false,"zero":false},"axis":null},"y":{"field":"row","type":"quantitative","scale":{"domain":[-1.5,-0.5,0.5,3.5],"range":[-221,-185,-114,-13],"nice":false,"zero":false},"axis":null},"text":{"field":"freq"}}},
   {"data":{"name":"tabR"},"mark":{"type":"text","fontSize":21,"color":"#555555","baseline":"middle"},"encoding":{"x":{"datum":2,"type":"quantitative","scale":{"domain":[-0.5,0.5,1.5,2.5],"range":[291.5,367.5,481.5,581.5],"nice":false,"zero":false},"axis":null},"y":{"field":"row","type":"quantitative","scale":{"domain":[-1.5,-0.5,0.5,3.5],"range":[-221,-185,-114,-13],"nice":false,"zero":false},"axis":null},"text":{"field":"damp"}}},
   {"data":{"name":"heads"},"mark":{"type":"text","fontSize":19,"color":"#666666","baseline":"middle"},"encoding":{"x":{"field":"c","type":"quantitative","scale":{"domain":[-0.5,0.5,1.5,2.5],"range":[291.5,367.5,481.5,581.5],"nice":false,"zero":false},"axis":null},"y":{"datum":-0.14,"type":"quantitative","scale":{"domain":[-1.5,-0.5,0.5,3.5],"range":[-221,-185,-114,-13],"nice":false,"zero":false},"axis":null},"text":{"field":"t1"}}},
   {"data":{"name":"heads"},"mark":{"type":"text","fontSize":19,"color":"#666666","baseline":"middle"},"encoding":{"x":{"field":"c","type":"quantitative","scale":{"domain":[-0.5,0.5,1.5,2.5],"range":[291.5,367.5,481.5,581.5],"nice":false,"zero":false},"axis":null},"y":{"datum":0.16,"type":"quantitative","scale":{"domain":[-1.5,-0.5,0.5,3.5],"range":[-221,-185,-114,-13],"nice":false,"zero":false},"axis":null},"text":{"field":"t2"}}},
   {"data":{"name":"one"},"mark":{"type":"text","fontSize":26,"color":"#3a3a3a","baseline":"middle"},"encoding":{"x":{"datum":1.08,"type":"quantitative","scale":{"domain":[-0.5,0.5,1.5,2.5],"range":[291.5,367.5,481.5,581.5],"nice":false,"zero":false},"axis":null},"y":{"datum":-1,"type":"quantitative","scale":{"domain":[-1.5,-0.5,0.5,3.5],"range":[-221,-185,-114,-13],"nice":false,"zero":false},"axis":null},"text":{"value":"Modal Parameters"}}}
  ]}
 ]
}
]
}
